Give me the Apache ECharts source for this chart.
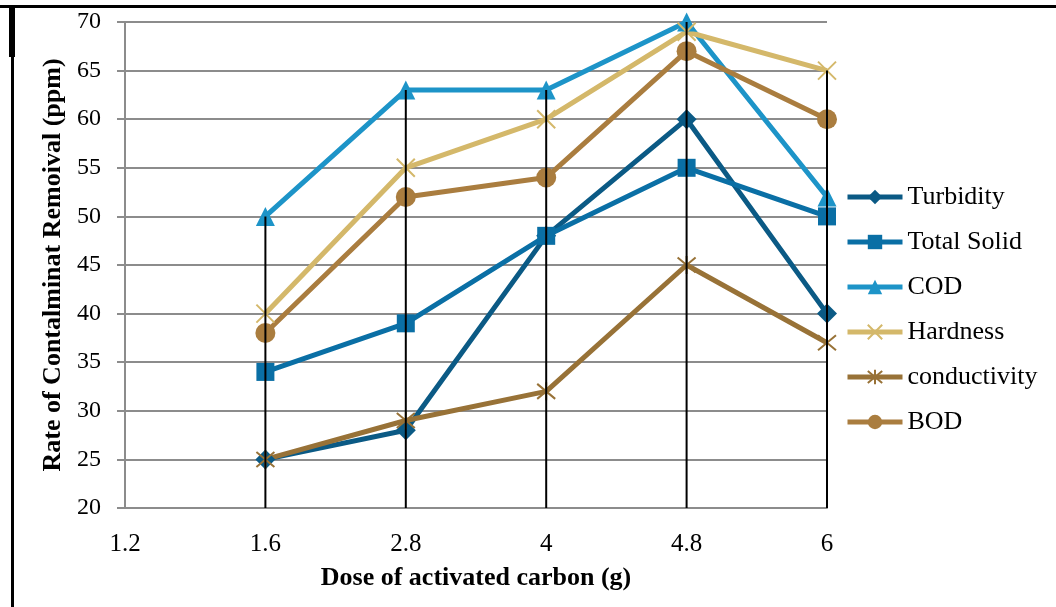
<!DOCTYPE html>
<html>
<head>
<meta charset="utf-8">
<style>
  html, body { margin: 0; padding: 0; background: #fff; }
  #chart { width: 1056px; height: 607px; }
</style>
<script src="https://cdn.jsdelivr.net/npm/echarts@6/dist/echarts.min.js"></script>
</head>
<body>
<div id="chart"></div>
<script>
// Dosis de carbón activado vs. remoción de contaminantes
const doses = ['1.2', '1.6', '2.8', '4', '4.8', '6'];
const turbidity    = [null, 25, 28, 48, 60, 40];
const totalSolid   = [null, 34, 39, 48, 55, 50];
const cod          = [null, 50, 63, 63, 70, 52];
const hardness     = [null, 40, 55, 60, 69, 65];
const conductivity = [null, 25, 29, 32, 45, 37];
const bod          = [null, 38, 52, 54, 67, 60];

const FONT = '"Liberation Serif", "DejaVu Serif", serif';
const CROSS = 'path://M0,0L10,10M10,0L0,10';
const STAR = 'path://M0,0L10,10M10,0L0,10M5,-1L5,11';

const mk = (name, data, color, symbol, size, open) => ({
  name, type: 'line', data, connectNulls: false,
  symbol, symbolSize: size, showSymbol: true,
  lineStyle: { color, width: 5 },
  itemStyle: open
    ? { color: 'rgba(0,0,0,0)', borderColor: color, borderWidth: 2 }
    : { color, borderWidth: 0 },
  emphasis: { disabled: true },
  z: 3,
});

const all = [turbidity, totalSolid, cod, hardness, conductivity, bod];
// líneas de caída (Excel): del máximo de cada categoría hasta el eje
const drops = doses.map((d, i) => {
  const vals = all.map(s => s[i]).filter(v => v != null);
  return vals.length ? [i, Math.max(...vals)] : null;
}).filter(Boolean);

const chart = echarts.init(document.getElementById('chart'), null, { renderer: 'canvas' });
chart.setOption({
  animation: false,
  textStyle: { fontFamily: FONT },
  graphic: [
    { type: 'rect', shape: { x: 0, y: 5, width: 1056, height: 3 }, style: { fill: '#000' } },
    { type: 'rect', shape: { x: 11, y: 5, width: 3, height: 602 }, style: { fill: '#000' } },
    { type: 'rect', shape: { x: 9, y: 5, width: 6, height: 52 }, style: { fill: '#000' } },
  ],
  grid: { left: 125, right: 229, top: 22, bottom: 99 },
  legend: {
    orient: 'vertical', left: 845, top: 184, itemGap: 19, padding: 0,
    itemWidth: 55, itemHeight: 18,
    lineStyle: { width: 5 },
    textStyle: { fontFamily: FONT, fontSize: 26, lineHeight: 26, color: '#000', padding: [0, 0, 0, 0] },
    data: ['Turbidity', 'Total Solid', 'COD', 'Hardness', 'conductivity', 'BOD'],
  },
  xAxis: {
    type: 'category', data: doses, boundaryGap: false,
    name: 'Dose of activated carbon (g)', nameLocation: 'middle', nameGap: 57,
    nameTextStyle: { fontFamily: FONT, fontSize: 26, fontWeight: 'bold', color: '#000' },
    axisLine: { lineStyle: { color: '#8c8c8c', width: 2 } },
    axisTick: { show: false },
    axisLabel: { fontFamily: FONT, fontSize: 25, color: '#000', margin: 24 },
    splitLine: { show: false },
  },
  yAxis: {
    type: 'value', min: 20, max: 70, interval: 5,
    name: 'Rate of Contalminat Remoival (ppm)', nameLocation: 'middle', nameGap: 55,
    nameTextStyle: { fontFamily: FONT, fontSize: 26, fontWeight: 'bold', color: '#000' },
    axisLine: { show: true, lineStyle: { color: '#8c8c8c', width: 2 } },
    axisTick: { show: true, length: 8, lineStyle: { color: '#8c8c8c', width: 2 } },
    axisLabel: { fontFamily: FONT, fontSize: 24, color: '#000', margin: 24 },
    splitLine: { lineStyle: { color: '#8c8c8c', width: 2 } },
  },
  series: [
    mk('Turbidity', turbidity, '#0b5a85', 'diamond', 20),
    mk('Total Solid', totalSolid, '#0a6fa5', 'rect', 18),
    mk('COD', cod, '#1d94c8', 'triangle', 19),
    mk('Hardness', hardness, '#d4b86a', CROSS, 18, true),
    mk('conductivity', conductivity, '#987237', STAR, 18, true),
    mk('BOD', bod, '#aa7d3f', 'circle', 20),
    {
      type: 'custom', name: 'drop', data: drops, z: 5, silent: true,
      renderItem: (params, api) => {
        const top = api.coord([api.value(0), api.value(1)]);
        const bot = api.coord([api.value(0), 20]);
        return {
          type: 'line',
          shape: { x1: top[0], y1: top[1], x2: bot[0], y2: bot[1] },
          style: { stroke: '#000', lineWidth: 2 },
        };
      },
    },
  ],
});
</script>
</body>
</html>
